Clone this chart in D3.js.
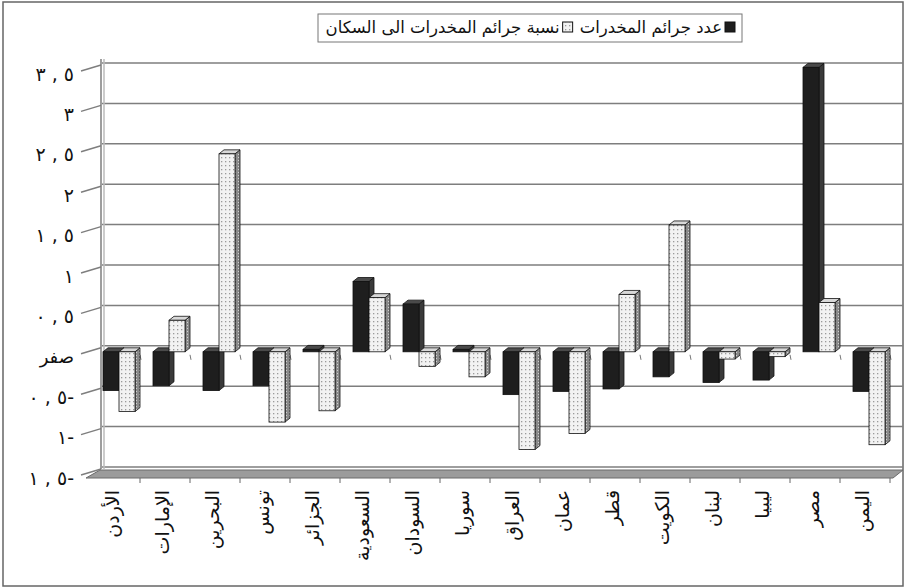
<!DOCTYPE html>
<html>
<head>
<meta charset="utf-8">
<script src="https://cdn.jsdelivr.net/npm/d3@7"></script>
<style>
  body { margin: 0; background: #fff; }
  text { font-family: "DejaVu Sans", sans-serif; fill: #111; }
</style>
</head>
<body>
<div id="chart"></div>
<script>
// data
const countries = ["الأردن", "الإمارات", "البحرين", "تونس", "الجزائر", "السعودية", "السودان", "سوريا",
  "العراق", "عمان", "قطر", "الكويت", "لبنان", "ليبيا", "مصر", "اليمن"];
const crimeCount = [-0.48, -0.42, -0.48, -0.42, 0.03, 0.87, 0.59, 0.03, -0.53, -0.49, -0.46, -0.31, -0.38, -0.35, 3.52, -0.49];
const crimeRatio = [-0.74, 0.39, 2.45, -0.87, -0.73, 0.67, -0.18, -0.31, -1.21, -1.01, 0.71, 1.57, -0.09, -0.06, 0.61, -1.15];
const seriesNames = ["عدد جرائم المخدرات", "نسبة جرائم المخدرات الى السكان"];
const tickValues = [-1.5, -1, -0.5, 0, 0.5, 1, 1.5, 2, 2.5, 3, 3.5];
const tickLabels = ["١ , ٥-", "١-", "٠ , ٥-", "صفر", "٠ , ٥", "١", "١ , ٥", "٢", "٢ , ٥", "٣", "٣ , ٥"];

const W = 906, H = 588;
const backDx = 14, backDy = -8;   // depth of the 3d box
const barDx = 4, barDy = -2;      // bars sit a little way into the box
const sideW = 5, sideH = 4;       // bar thickness

const svg = d3.select("#chart").append("svg").attr("width", W).attr("height", H);

const defs = svg.append("defs");
const dots = defs.append("pattern").attr("id", "dots").attr("patternUnits", "userSpaceOnUse")
  .attr("width", 4).attr("height", 4);
dots.append("rect").attr("width", 4).attr("height", 4).attr("fill", "#f2f2f2");
dots.append("rect").attr("x", 1).attr("y", 1).attr("width", 1.3).attr("height", 1.3).attr("fill", "#9a9a9a");
const dotsDark = defs.append("pattern").attr("id", "dotsDark").attr("patternUnits", "userSpaceOnUse")
  .attr("width", 3).attr("height", 3);
dotsDark.append("rect").attr("width", 3).attr("height", 3).attr("fill", "#8a8a8a");
dotsDark.append("rect").attr("x", 1).attr("y", 1).attr("width", 1).attr("height", 1).attr("fill", "#cfcfcf");

// outer frame
svg.append("rect").attr("x", 3).attr("y", 2).attr("width", 900).attr("height", 584)
  .attr("fill", "none").attr("stroke", "#666").attr("stroke-width", 1.5);

const x = d3.scaleBand().domain(countries).range([90, 890]);
const sub = d3.scaleBand().domain(["count", "ratio"]).range([0, x.bandwidth()])
  .paddingInner(0).paddingOuter(0.5625);
const y = d3.scaleLinear().domain([-1.5, 3.5]).range([475, 71]);

// floor
const floorY = y(-1.5);
svg.append("polygon")
  .attr("points", [[86, floorY + 3], [100, floorY + 3 + backDy], [903, floorY + 3 + backDy], [893, floorY + 3]].join(" "))
  .attr("fill", "#9b9b9b").attr("stroke", "#6a6a6a");

// back wall gridlines, side wall lines and tick marks
const grid = svg.append("g").attr("stroke", "#7e7e7e").attr("stroke-width", 1.5);
grid.selectAll(".back").data(tickValues).enter().append("line")
  .attr("x1", 102).attr("x2", 903)
  .attr("y1", d => y(d) + backDy).attr("y2", d => y(d) + backDy);
grid.selectAll(".side").data(tickValues).enter().append("line")
  .attr("x1", 81).attr("x2", 101)
  .attr("y1", d => y(d)).attr("y2", d => y(d) + backDy + 2);
grid.append("line").attr("x1", 101).attr("x2", 101)
  .attr("y1", y(3.5) + backDy - 4).attr("y2", floorY + backDy + 2);
grid.append("line").attr("x1", 104).attr("x2", 104).attr("stroke", "#bbb")
  .attr("y1", y(3.5) + backDy - 4).attr("y2", floorY + backDy + 2);

// category ticks on the zero line and under the floor
const bounds = countries.slice(1).map(c => x(c)).concat([890]);
svg.append("g").attr("stroke", "#777").selectAll("line").data(bounds).enter().append("line")
  .attr("x1", d => d).attr("x2", d => d + 1)
  .attr("y1", y(0) + 1).attr("y2", y(0) + 6);
svg.append("g").attr("stroke", "#666").selectAll("line").data(bounds).enter().append("line")
  .attr("x1", d => d).attr("x2", d => d)
  .attr("y1", floorY + 3).attr("y2", floorY + 8);

// y labels; digits are typed in display order, the word "صفر" is left to normal bidi
svg.append("g").selectAll("text").data(tickValues).enter().append("text")
  .attr("x", 74).attr("y", d => y(d) + 3).attr("dy", "0.35em")
  .attr("text-anchor", "end")
  .style("direction", "ltr")
  .style("unicode-bidi", d => d === 0 ? "normal" : "bidi-override")
  .style("font-size", d => d === 0 ? "18px" : "19px")
  .text((d, i) => tickLabels[i]);

// 3d bars
const rows = [];
countries.forEach((c, i) => {
  rows.push({ c: c, key: "count", v: crimeCount[i] });
  rows.push({ c: c, key: "ratio", v: crimeRatio[i] });
});
const style = {
  count: { front: "#1e1e1e", side: "#3a3a3a", top: "#4a4a4a" },
  ratio: { front: "url(#dots)", side: "url(#dotsDark)", top: "#d8d8d8" }
};

const bars = svg.append("g").selectAll("g").data(rows).enter().append("g")
  .attr("stroke", "#111").attr("stroke-width", 0.8);
bars.each(function (d) {
  const g = d3.select(this);
  const bw = sub.bandwidth();
  const x0 = x(d.c) + sub(d.key) + barDx;
  const yTop = Math.min(y(d.v), y(0)) + barDy;
  const yBot = Math.max(y(d.v), y(0)) + barDy;
  g.append("polygon")
    .attr("points", [[x0 + bw, yTop], [x0 + bw + sideW, yTop - sideH], [x0 + bw + sideW, yBot - sideH], [x0 + bw, yBot]].join(" "))
    .attr("fill", style[d.key].side);
  g.append("polygon")
    .attr("points", [[x0, yTop], [x0 + sideW, yTop - sideH], [x0 + bw + sideW, yTop - sideH], [x0 + bw, yTop]].join(" "))
    .attr("fill", style[d.key].top);
  g.append("rect").attr("x", x0).attr("y", yTop).attr("width", bw).attr("height", Math.max(0.5, yBot - yTop))
    .attr("fill", style[d.key].front);
});

// x labels, rotated
svg.append("g").selectAll("text").data(countries).enter().append("text")
  .attr("transform", d => `translate(${x(d) + x.bandwidth() / 2 - 3},490) rotate(-90)`)
  .attr("dy", "0.35em")
  .attr("text-anchor", "end")
  .style("font-size", "19px")
  .text(d => d);

// legend, laid out from the right like the original
const legend = svg.append("g");
legend.append("rect").attr("x", 318).attr("y", 14).attr("width", 424).attr("height", 28)
  .attr("fill", "#fff").attr("stroke", "#777");
const legendFills = ["#1e1e1e", "url(#dots)"];
let cursor = 735;
seriesNames.forEach((name, i) => {
  legend.append("rect").attr("x", cursor - 10).attr("y", 22).attr("width", 10).attr("height", 10)
    .attr("fill", legendFills[i]).attr("stroke", "#111");
  const t = legend.append("text").attr("x", cursor - 13).attr("y", 33)
    .attr("text-anchor", "end").style("font-size", "16.5px").text(name);
  cursor = cursor - 13 - t.node().getComputedTextLength() - 7;
});
</script>
</body>
</html>
